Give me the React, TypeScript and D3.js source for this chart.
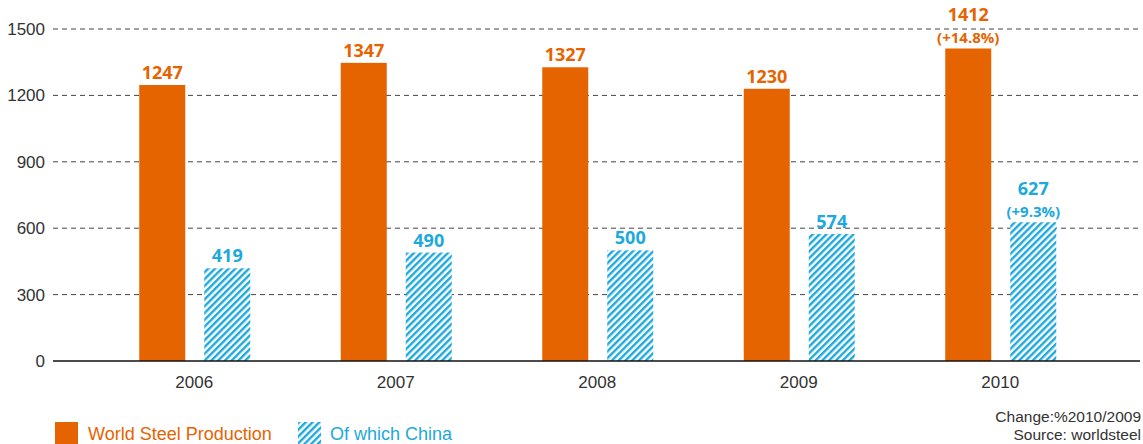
import React from "react";
import * as d3 from "d3";

const years = ["2006", "2007", "2008", "2009", "2010"];
const world = [1247, 1347, 1327, 1230, 1412];
const china = [419, 490, 500, 574, 627];
const worldChange = ["", "", "", "", "(+14.8%)"];
const chinaChange = ["", "", "", "", "(+9.3%)"];
const yTicks = [0, 300, 600, 900, 1200, 1500];

const ORANGE = "#E66400";
const BLUE = "#1EA9DC";
const W = 1143;
const H = 444;

export default function App() {
  const x = d3.scaleBand<string>().domain(years).range([93.5, 1101]).padding(0);
  const y = d3.scaleLinear().domain([0, 1500]).range([361, 29]);
  const bw = 46;
  const font = "'Liberation Sans', Arial, sans-serif";
  const boldFont = "'Open Sans', 'DejaVu Sans', sans-serif";

  return (
    <svg width={W} height={H} style={{ position: "absolute", left: 0, top: 0 }} fontFamily={font}>
      <defs>
        <pattern id="hatch" patternUnits="userSpaceOnUse" width="4.8" height="4.8" patternTransform="rotate(45)">
          <rect width="4.8" height="4.8" fill="white" />
          <line x1="1.2" y1="0" x2="1.2" y2="4.8" stroke={BLUE} strokeWidth="2.4" />
        </pattern>
      </defs>
      {yTicks.map((t) => (
        <g key={t}>
          {t > 0 && (
            <line x1={53} x2={1140} y1={y(t)} y2={y(t)} stroke="#444" strokeWidth={1} strokeDasharray="5,4" />
          )}
          <text x={45} y={y(t)} dy="0.35em" textAnchor="end" fontSize={17} fill="#333">
            {t}
          </text>
        </g>
      ))}
      {years.map((yr, i) => {
        const c = (x(yr) as number) + x.bandwidth() / 2;
        const ox = c - 55;
        const bx = c + 10;
        return (
          <g key={yr}>
            <rect x={ox} y={y(world[i])} width={bw} height={y(0) - y(world[i])} fill={ORANGE} />
            <rect x={bx} y={y(china[i])} width={bw} height={y(0) - y(china[i])} fill="url(#hatch)" />
            <text
              x={ox + bw / 2}
              y={y(world[i]) - (worldChange[i] ? 27 : 6)}
              textAnchor="middle"
              fontSize={18}
              fontWeight="bold"
              fontFamily={boldFont}
              fill={ORANGE}
            >
              {world[i]}
            </text>
            {worldChange[i] && (
              <text x={ox + bw / 2} y={y(world[i]) - 5} textAnchor="middle" fontSize={15} fontWeight="bold" fontFamily={boldFont} fill={ORANGE}>
                {worldChange[i]}
              </text>
            )}
            <text
              x={bx + bw / 2}
              y={y(china[i]) - (chinaChange[i] ? 27 : 6)}
              textAnchor="middle"
              fontSize={18}
              fontWeight="bold"
              fontFamily={boldFont}
              fill={BLUE}
            >
              {china[i]}
            </text>
            {chinaChange[i] && (
              <text x={bx + bw / 2} y={y(china[i]) - 5} textAnchor="middle" fontSize={15} fontWeight="bold" fontFamily={boldFont} fill={BLUE}>
                {chinaChange[i]}
              </text>
            )}
            <text x={c} y={388} textAnchor="middle" fontSize={17} fill="#333">
              {yr}
            </text>
          </g>
        );
      })}
      <line x1={53} x2={1140} y1={y(0)} y2={y(0)} stroke="#111" strokeWidth={1.5} />
      <rect x={55} y={422} width={23} height={22} fill={ORANGE} />
      <text x={88} y={440} fontSize={18} fill={ORANGE}>World Steel Production</text>
      <rect x={298} y={422} width={23} height={22} fill="url(#hatch)" />
      <text x={330} y={440} fontSize={18} fill={BLUE}>Of which China</text>
      <text x={1141} y={422} textAnchor="end" fontSize={15.5} fill="#333">Change:%2010/2009</text>
      <text x={1141} y={440} textAnchor="end" fontSize={15.5} fill="#333">Source: worldsteel</text>
    </svg>
  );
}
